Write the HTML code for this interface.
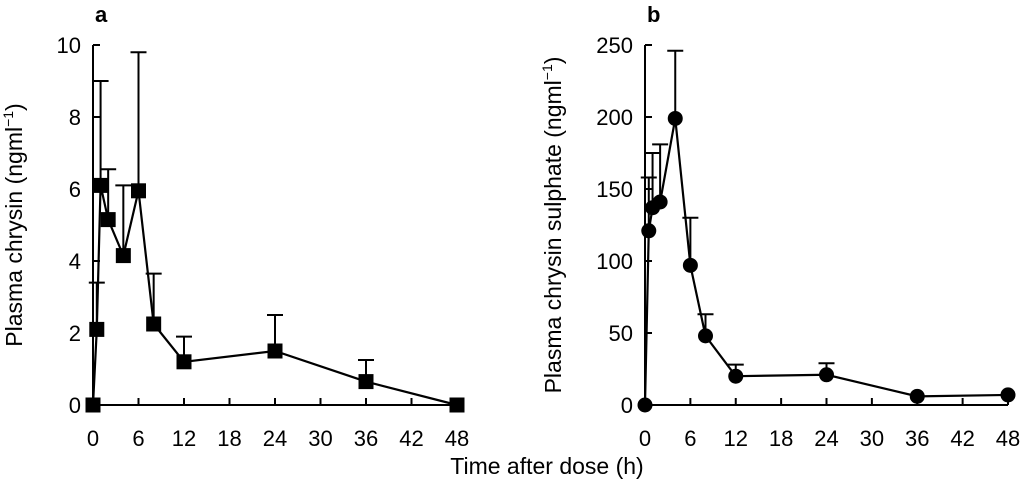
<!DOCTYPE html>
<html><head><meta charset="utf-8"><style>
body{margin:0;background:#fff}
svg{display:block;font-family:"Liberation Sans",sans-serif}
</style></head><body>
<svg id="chart" width="1024" height="482" viewBox="0 0 1024 482"></svg>
<script>
const timesA=[0,0.5,1,2,4,6,8,12,24,36,48];
const valuesA=[0,2.1,6.1,5.15,4.15,5.95,2.25,1.2,1.5,0.65,0];
const errTopA=[null,3.4,9.0,6.55,6.1,9.8,3.65,1.9,2.5,1.25,null];
const timesB=[0,0.5,1,2,4,6,8,12,24,36,48];
const valuesB=[0,121,137,141,199,97,48,20,21,6,7];
const errTopB=[null,158,175,181,246,130,63,28,29,null,null];
const xTicks=[0,6,12,18,24,30,36,42,48];
const yTicksA=[0,2,4,6,8,10];
const yTicksB=[0,50,100,150,200,250];

const svg=document.getElementById('chart');
const NS='http://www.w3.org/2000/svg';
function mk(tag,attrs,parent){const e=document.createElementNS(NS,tag);for(const k in attrs)e.setAttribute(k,attrs[k]);(parent||svg).appendChild(e);return e;}

function panel(cfg){
  const g=mk('g',{});
  
  
  const x=t=>cfg.x0+(t/48)*(cfg.x1-cfg.x0);
  const y=v=>405-(v/cfg.ymax)*360;
  const ax=mk('path',{d:`M${cfg.x0},45 V405 H${cfg.x1}`,fill:'none',stroke:'#000','stroke-width':2},g);
  
  
  xTicks.forEach(t=>{
    mk('line',{x1:x(t),x2:x(t),y1:405,y2:398,stroke:'#000','stroke-width':2},g);
    const tx=mk('text',{x:x(t),y:446,'font-size':22,'text-anchor':'middle'},g);tx.textContent=t;
    
    
  });
  cfg.yt.forEach(v=>{
    mk('line',{x1:cfg.x0,x2:cfg.x0+7,y1:y(v),y2:y(v),stroke:'#000','stroke-width':2},g);
    const tx=mk('text',{x:cfg.x0-12,y:y(v)+8,'font-size':22,'text-anchor':'end'},g);tx.textContent=v;
    
    
  });
  cfg.err.forEach((e,i)=>{
    if(e==null)return;
    const xe=x(cfg.t[i]);
    const eb=mk('path',{d:`M${xe},${y(cfg.v[i])} V${y(e)} M${xe-8},${y(e)} H${xe+8}`,stroke:'#000','stroke-width':2,fill:'none'},g);
    
    
  });
  const ln=mk('polyline',{points:cfg.t.map((t,i)=>x(t)+','+y(cfg.v[i])).join(' '),fill:'none',stroke:'#000','stroke-width':2.2},g);
  
  
  cfg.t.forEach((t,i)=>{
    let m;
    if(cfg.marker==='square') m=mk('rect',{x:x(t)-7.5,y:y(cfg.v[i])-7.5,width:15,height:15,fill:'#000'},g);
    else m=mk('circle',{cx:x(t),cy:y(cfg.v[i]),r:7.5,fill:'#000'},g);
    
    
  });
  const lab=mk('text',{x:cfg.x0+2,y:22,'font-size':22,'font-weight':'bold'},g);lab.textContent=cfg.letter;
  
  
  const yl=mk('text',{transform:`translate(${cfg.ylx},${cfg.yly}) rotate(-90)`,'font-size':23,'text-anchor':'middle'},g);
  yl.innerHTML=cfg.ylabel;
  
  
}
panel({name:'panel-a',x0:93,x1:457,ymax:10,yt:yTicksA,t:timesA,v:valuesA,err:errTopA,marker:'square',letter:'a',ylx:22,yly:225,
  ylabel:'Plasma chrysin (ngml<tspan dy="-9" font-size="14">−1</tspan><tspan dy="9">)</tspan>'});
panel({name:'panel-b',x0:645,x1:1008,ymax:250,yt:yTicksB,t:timesB,v:valuesB,err:errTopB,marker:'circle',letter:'b',ylx:561,yly:225,
  ylabel:'Plasma chrysin sulphate (ngml<tspan dy="-9" font-size="14">−1</tspan><tspan dy="9">)</tspan>'});
const xt=mk('text',{x:547,y:474,'font-size':23,'text-anchor':'middle'});
xt.textContent='Time after dose (h)';


</script>
</body></html>
